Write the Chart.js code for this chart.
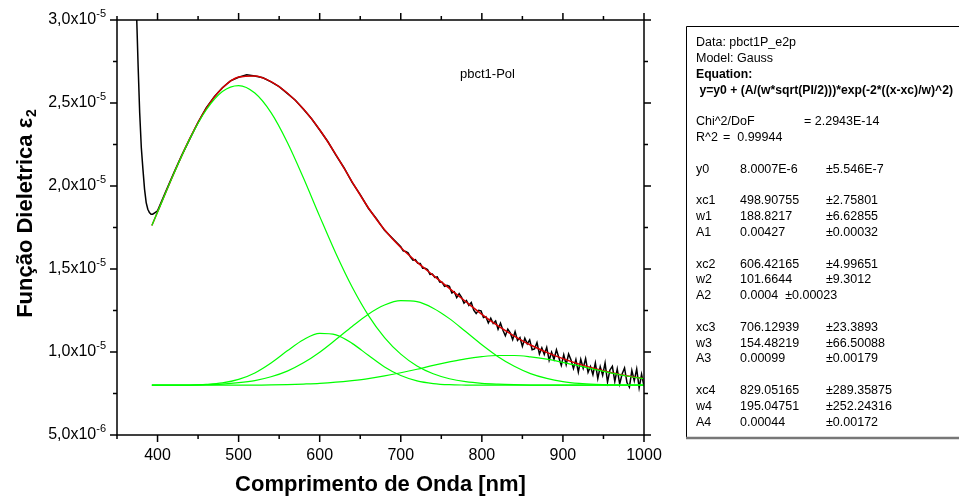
<!DOCTYPE html>
<html>
<head>
<meta charset="utf-8">
<script src="https://cdn.jsdelivr.net/npm/chart.js@4"></script>
<style>
  html, body { margin: 0; padding: 0; background: #fff; }
  #wrap { width: 959px; height: 498px; }
</style>
</head>
<body>
<div id="wrap"><canvas id="chart" width="959" height="498"></canvas></div>
<script>
// values of eps2 are in units of 1e-6
const UNIT = 1e-6;

// ─── MEASURED DATA (black) ────────────────────────────────
const dataWl = [372, 374, 376, 378, 380, 382, 384, 386, 388, 390, 392, 394, 397,
  400, 410, 420, 430, 440, 450, 460, 470, 480, 490, 500, 510, 520, 530, 540, 550,
  560, 570, 580, 590, 600, 610, 620, 630, 640, 650, 660, 670, 680, 690,
  700, 703, 706, 709, 712, 715, 718, 721, 724, 727, 730, 733, 736, 739, 742, 745, 748, 751, 754, 757,
  760, 763, 766, 769, 772, 775, 778, 781, 784, 787, 790, 793, 796, 799, 802, 805, 808, 811, 814, 817,
  820, 823, 826, 829, 832, 835, 838, 841, 844, 847, 850, 853, 856, 859, 862, 865, 868, 871, 874, 877,
  880, 883, 886, 889, 892, 895, 898, 901, 904, 907, 910, 913, 916, 919, 922, 925, 928, 931, 934, 937,
  940, 943, 946, 949, 952, 955, 958, 961, 964, 967, 970, 973, 976, 979, 982, 985, 988, 991, 994, 997, 1000];
const dataEps = [33.0, 30.6, 27.3, 24.4, 22.3, 21.0, 19.8, 19.0, 18.6, 18.4, 18.3, 18.3, 18.4,
  18.50, 19.65, 20.78, 21.86, 22.85, 23.84, 24.70, 25.38, 25.92, 26.33, 26.55, 26.70, 26.62, 26.52, 26.27, 25.99,
  25.58, 25.17, 24.62, 24.05, 23.37, 22.68, 21.86, 21.10, 20.22, 19.48, 18.66, 18.03, 17.33, 16.84,
  16.34, 16.09, 16.05, 15.98, 15.72, 15.53, 15.56, 15.35, 15.33, 15.04, 15.05, 14.97, 14.67, 14.70, 14.49, 14.52, 14.22, 14.20, 13.95, 14.01,
  13.95, 13.56, 13.63, 13.28, 13.52, 13.29, 12.94, 13.10, 12.81, 12.98, 12.52, 12.32, 12.51, 12.48, 12.08, 12.13, 11.75, 12.04, 11.72, 11.87,
  11.37, 11.74, 11.31, 10.98, 11.38, 11.16, 10.75, 11.23, 10.70, 10.87, 10.34, 10.83, 10.49, 10.73, 10.14, 10.19, 10.57, 9.88, 10.25, 9.85,
  10.28, 9.50, 9.99, 9.56, 10.13, 9.65, 9.19, 9.83, 9.23, 9.88, 9.52, 9.01, 9.54, 8.79, 9.56, 9.02, 9.60, 8.77, 9.13, 8.63,
  9.34, 8.40, 9.12, 8.60, 9.34, 8.19, 8.92, 9.14, 8.23, 8.98, 8.07, 8.67, 9.04, 8.16, 7.88, 8.89, 8.27, 8.98, 7.84, 8.66, 7.94];

// ─── FIT (red) AND GAUSS PEAKS (green) ────────────────────
const fitWl = [393, 400, 420, 440, 460, 480, 500, 520, 540, 560, 580, 600, 620, 640, 660, 680,
  700, 720, 740, 760, 780, 800, 820, 840, 860, 880, 900, 920, 940, 960, 980, 1000];
const fitEps = [17.62, 18.43, 20.74, 22.88, 24.66, 25.90, 26.56, 26.63, 26.29, 25.60, 24.64, 23.39, 21.89, 20.25, 18.69, 17.36,
  16.29, 15.41, 14.62, 13.83, 13.04, 12.27, 11.57, 10.96, 10.42, 9.98, 9.60, 9.27, 8.99, 8.75, 8.55, 8.39];
const peak1 = [17.62, 18.43, 20.73, 22.86, 24.58, 25.69, 26.05, 25.60, 24.42, 22.64, 20.48, 18.17, 15.93, 13.91, 12.21, 10.87,
  9.87, 9.16, 8.69, 8.39, 8.21, 8.11, 8.06, 8.03, 8.01, 8.00, 8.00, 8.00, 8.00, 8.00, 8.00, 8.00];
const peak2 = [8.00, 8.00, 8.00, 8.01, 8.05, 8.14, 8.35, 8.74, 9.34, 10.07, 10.74, 11.12, 11.03, 10.52, 9.80, 9.10,
  8.58, 8.26, 8.10, 8.03, 8.01, 8.00, 8.00, 8.00, 8.00, 8.00, 8.00, 8.00, 8.00, 8.00, 8.00, 8.00];
const peak3 = [8.00, 8.00, 8.01, 8.01, 8.03, 8.07, 8.15, 8.28, 8.51, 8.85, 9.35, 9.99, 10.75, 11.54, 12.28, 12.83,
  13.09, 13.03, 12.64, 12.01, 11.23, 10.44, 9.72, 9.14, 8.70, 8.41, 8.22, 8.11, 8.05, 8.02, 8.01, 8.00];
const peak4 = [8.00, 8.00, 8.00, 8.00, 8.00, 8.00, 8.01, 8.01, 8.02, 8.04, 8.07, 8.11, 8.18, 8.28, 8.40, 8.56,
  8.75, 8.96, 9.19, 9.40, 9.59, 9.72, 9.79, 9.79, 9.71, 9.57, 9.38, 9.16, 8.94, 8.73, 8.54, 8.39];

// ─── AXES ─────────────────────────────────────────────────
const xMajor = [400, 500, 600, 700, 800, 900, 1000];
const xMinor = [350, 450, 550, 650, 750, 850, 950];
const yMajor = [5, 10, 15, 20, 25, 30];
const yMinor = [7.5, 12.5, 17.5, 22.5, 27.5];
const yMant = ['5,0', '1,0', '1,5', '2,0', '2,5', '3,0'];
const yExp = ['-6', '-5', '-5', '-5', '-5', '-5'];

// ─── FIT REPORT BOX ───────────────────────────────────────
const reportHead = ['Data: pbct1P_e2p', 'Model: Gauss'];
const reportBold = ['Equation:', ' y=y0 + (A/(w*sqrt(PI/2)))*exp(-2*((x-xc)/w)^2)'];
const paramRows = [
  ['y0', '8.0007E-6', '\u00b15.546E-7'],
  null,
  ['xc1', '498.90755', '\u00b12.75801'],
  ['w1', '188.8217', '\u00b16.62855'],
  ['A1', '0.00427', '\u00b10.00032'],
  null,
  ['xc2', '606.42165', '\u00b14.99651'],
  ['w2', '101.6644', '\u00b19.3012'],
  ['A2', '0.0004  \u00b10.00023', ''],
  null,
  ['xc3', '706.12939', '\u00b123.3893'],
  ['w3', '154.48219', '\u00b166.50088'],
  ['A3', '0.00099', '\u00b10.00179'],
  null,
  ['xc4', '829.05165', '\u00b1289.35875'],
  ['w4', '195.04751', '\u00b1252.24316'],
  ['A4', '0.00044', '\u00b10.00172'],
];

const FONT = '"Liberation Sans", Arial, sans-serif';
const pts = (xs, ys) => xs.map((x, i) => ({ x, y: ys[i] * UNIT }));

const frame = {
  id: 'frame',
  afterDatasetsDraw(chart) {
    const { ctx, chartArea: a, scales: { x, y } } = chart;
    ctx.save();
    ctx.strokeStyle = '#000';
    ctx.lineWidth = 1.5;
    ctx.strokeRect(a.left, a.top, a.right - a.left, a.bottom - a.top);

    ctx.beginPath();
    const tx = (v, len) => {
      const px = x.getPixelForValue(v);
      ctx.moveTo(px, a.bottom); ctx.lineTo(px, a.bottom + len);
      ctx.moveTo(px, a.top); ctx.lineTo(px, a.top - len);
    };
    const ty = (v, len) => {
      const py = y.getPixelForValue(v * UNIT);
      ctx.moveTo(a.left, py); ctx.lineTo(a.left - len, py);
      ctx.moveTo(a.right, py); ctx.lineTo(a.right + len, py);
    };
    xMajor.forEach(v => tx(v, 7));
    xMinor.forEach(v => tx(v, 4));
    yMajor.forEach(v => ty(v, 7));
    yMinor.forEach(v => ty(v, 4));
    ctx.stroke();

    // tick labels
    ctx.fillStyle = '#000';
    ctx.font = '16px ' + FONT;
    ctx.textAlign = 'center';
    ctx.textBaseline = 'middle';
    xMajor.forEach(v => ctx.fillText(String(v), x.getPixelForValue(v), a.bottom + 21));

    yMajor.forEach((v, i) => {
      const py = y.getPixelForValue(v * UNIT);
      const right = a.left - 11;
      ctx.font = '11px ' + FONT;
      const ew = ctx.measureText(yExp[i]).width;
      ctx.textAlign = 'left';
      ctx.fillText(yExp[i], right - ew, py - 6);
      ctx.font = '16px ' + FONT;
      ctx.textAlign = 'right';
      ctx.fillText(yMant[i] + 'x10', right - ew, py);
    });

    // axis titles
    ctx.font = 'bold 22px ' + FONT;
    ctx.textAlign = 'center';
    ctx.fillText('Comprimento de Onda [nm]', (a.left + a.right) / 2, 485);

    ctx.save();
    ctx.translate(26, 214);
    ctx.rotate(-Math.PI / 2);
    const main = 'Função Dieletrica ε';
    ctx.font = 'bold 22px ' + FONT;
    const mw = ctx.measureText(main).width;
    ctx.font = 'bold 14px ' + FONT;
    const sw = ctx.measureText('2').width;
    const x0 = -(mw + sw) / 2;
    ctx.textAlign = 'left';
    ctx.font = 'bold 22px ' + FONT;
    ctx.fillText(main, x0, 0);
    ctx.font = 'bold 14px ' + FONT;
    ctx.fillText('2', x0 + mw + 1, 6);
    ctx.restore();

    // sample label
    ctx.font = '13px ' + FONT;
    ctx.textAlign = 'left';
    ctx.fillText('pbct1-Pol', 460, 74);
    ctx.restore();
  }
};

const report = {
  id: 'report',
  afterDraw(chart) {
    const ctx = chart.ctx;
    ctx.save();
    // box with shadowed bottom edge
    ctx.strokeStyle = '#000';
    ctx.lineWidth = 1;
    ctx.beginPath();
    ctx.moveTo(962, 26.5); ctx.lineTo(686.5, 26.5); ctx.lineTo(686.5, 437);
    ctx.stroke();
    ctx.strokeStyle = '#777';
    ctx.lineWidth = 2.5;
    ctx.beginPath();
    ctx.moveTo(686, 438); ctx.lineTo(962, 438);
    ctx.stroke();

    const lh = 15.8;
    let ly = 43;
    ctx.fillStyle = '#000';
    ctx.textBaseline = 'middle';
    ctx.textAlign = 'left';
    ctx.font = '12.5px ' + FONT;
    reportHead.forEach(t => { ctx.fillText(t, 696, ly); ly += lh; });
    ctx.font = 'bold 12.2px ' + FONT;
    reportBold.forEach(t => { ctx.fillText(t, 696, ly); ly += lh; });
    ctx.font = '12.5px ' + FONT;
    ly += lh;
    ctx.fillText('Chi^2/DoF', 696, ly);
    ctx.fillText('= 2.2943E-14', 804, ly);
    ly += lh;
    ctx.fillText('R^2', 696, ly);
    ctx.fillText('=  0.99944', 723, ly);
    ly += 2 * lh;
    paramRows.forEach(r => {
      if (r) {
        ctx.fillText(r[0], 696, ly);
        ctx.fillText(r[1], 740, ly);
        ctx.fillText(r[2], 826, ly);
      }
      ly += lh;
    });
    ctx.restore();
  }
};

const line = (data, color, width, order, smooth) => ({
  data, borderColor: color, borderWidth: width, pointRadius: 0, fill: false, order,
  cubicInterpolationMode: smooth ? 'monotone' : 'default', tension: 0,
});

new Chart(document.getElementById('chart'), {
  type: 'line',
  data: {
    datasets: [
      line(pts(fitWl, peak1), '#00ff00', 1.2, 0, true),
      line(pts(fitWl, peak2), '#00ff00', 1.2, 0, true),
      line(pts(fitWl, peak3), '#00ff00', 1.2, 0, true),
      line(pts(fitWl, peak4), '#00ff00', 1.2, 0, true),
      line(pts(fitWl, fitEps), '#d80000', 1.5, 1, true),
      line(pts(dataWl, dataEps), '#000000', 1.5, 2, false),
    ]
  },
  options: {
    responsive: false,
    devicePixelRatio: 1,
    animation: false,
    layout: { padding: { left: 117, right: 315, top: 20, bottom: 63 } },
    plugins: { legend: { display: false }, tooltip: { enabled: false } },
    scales: {
      x: { type: 'linear', min: 350, max: 1000, display: false },
      y: { type: 'linear', min: 5 * UNIT, max: 30 * UNIT, display: false },
    }
  },
  plugins: [frame, report]
});
</script>
</body>
</html>
